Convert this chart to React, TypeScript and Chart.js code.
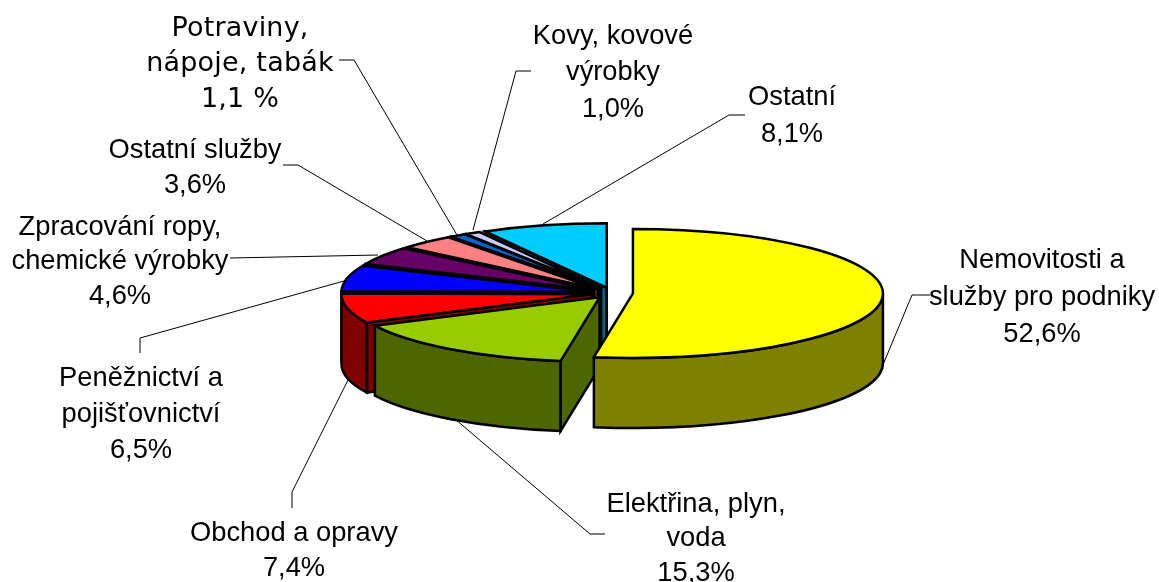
import React, { useEffect, useRef } from "react";
import { Chart, registerables } from "chart.js";

Chart.register(...registerables);

const categories = [
  "Nemovitosti a služby pro podniky",
  "Elektřina, plyn, voda",
  "Obchod a opravy",
  "Peněžnictví a pojišťovnictví",
  "Zpracování ropy, chemické výrobky",
  "Ostatní služby",
  "Potraviny, nápoje, tabák",
  "Kovy, kovové výrobky",
  "Ostatní",
];
const shares = [52.6, 15.3, 7.4, 6.5, 4.6, 3.6, 1.1, 1.0, 8.1];
const topColors = ["#FFFF00", "#99CC00", "#FF0000", "#0000FF", "#660066", "#FF8080", "#0066CC", "#CCCCFF", "#00CCFF"];
const wallColors = ["#808000", "#4D6600", "#800000", "#000080", "#330033", "#804040", "#003366", "#666680", "#006680"];

const labelLines = [
  ["Nemovitosti a", "služby pro podniky", "52,6%"],
  ["Elektřina, plyn,", "voda", "15,3%"],
  ["Obchod a opravy", "7,4%"],
  ["Peněžnictví a", "pojišťovnictví", "6,5%"],
  ["Zpracování ropy,", "chemické výrobky", "4,6%"],
  ["Ostatní služby", "3,6%"],
  ["Potraviny,", "nápoje, tabák", "1,1 %"],
  ["Kovy, kovové", "výrobky", "1,0%"],
  ["Ostatní", "8,1%"],
];
const labelCenterX = [1042, 696, 294, 141, 120, 195, 240, 613, 792];
const labelLineY = [
  [259, 296, 333],
  [503, 537, 572],
  [532, 567],
  [377, 413, 449],
  [226, 260, 295],
  [149, 184],
  [28, 63, 99],
  [35, 71, 108],
  [96, 133],
];
const leaders = [
  [[930, 295], [912, 295], [880, 372]],
  [[455, 419], [590, 534], [605, 534]],
  [[292, 508], [292, 492], [348, 380]],
  [[140, 353], [140, 338], [344, 281]],
  [[230, 258], [378, 255]],
  [[283, 165], [298, 165], [427, 241]],
  [[339, 60], [354, 60], [457, 235]],
  [[531, 71], [516, 71], [473, 230]],
  [[745, 115], [729, 115], [543, 224]],
];
const SANS = '"Liberation Sans", Arial, sans-serif';
const WIDE = '"DejaVu Sans", Verdana, sans-serif';
const WIDE_LABEL = 6;

const TILT = 0.258;
const DEPTH = 70;
const EXPLODE = 21;

const pie3d = {
  id: "pie3d",
  beforeDatasetDraw(chart: any) {
    const ctx = chart.ctx;
    const arcs = chart.getDatasetMeta(0).data;
    const geom = arcs.map((a: any) => {
      const mid = (a.startAngle + a.endAngle) / 2;
      return {
        s: a.startAngle,
        e: a.endAngle,
        R: a.outerRadius,
        ox: a.x + Math.cos(mid) * EXPLODE,
        oy: a.y + Math.sin(mid) * EXPLODE * TILT,
      };
    });
    ctx.save();
    ctx.lineWidth = 2.5;
    ctx.lineJoin = "miter";
    ctx.strokeStyle = "#000";
    const order = arcs.map((_: any, i: number) => arcs.length - 1 - i);
    for (const i of order) {
      const g = geom[i];
      ctx.fillStyle = wallColors[i];
      const face = (t: number) => {
        const px = g.ox + Math.cos(t) * g.R;
        const py = g.oy + Math.sin(t) * g.R * TILT;
        ctx.beginPath();
        ctx.moveTo(g.ox, g.oy);
        ctx.lineTo(px, py);
        ctx.lineTo(px, py + DEPTH);
        ctx.lineTo(g.ox, g.oy + DEPTH);
        ctx.closePath();
        ctx.fill();
        ctx.stroke();
      };
      if (Math.cos(g.s) < 0) face(g.s);
      if (Math.cos(g.e) > 0) face(g.e);
      const a = Math.max(g.s, 0);
      const b = Math.min(g.e, Math.PI);
      if (b > a) {
        ctx.beginPath();
        ctx.ellipse(g.ox, g.oy, g.R, g.R * TILT, 0, a, b);
        ctx.ellipse(g.ox, g.oy + DEPTH, g.R, g.R * TILT, 0, b, a, true);
        ctx.closePath();
        ctx.fill();
        ctx.stroke();
      }
    }
    for (const i of order) {
      const g = geom[i];
      const arc = arcs[i];
      ctx.save();
      ctx.translate(g.ox, g.oy);
      ctx.scale(1, TILT);
      ctx.translate(-arc.x, -arc.y);
      arc.draw(ctx);
      ctx.beginPath();
      ctx.moveTo(arc.x, arc.y);
      ctx.arc(arc.x, arc.y, g.R, g.s, g.e);
      ctx.closePath();
      ctx.restore();
      ctx.stroke();
    }
    ctx.restore();
    return false;
  },
  afterDraw(chart: any) {
    const ctx = chart.ctx;
    ctx.save();
    ctx.strokeStyle = "#000";
    ctx.lineWidth = 1;
    for (const path of leaders) {
      ctx.beginPath();
      path.forEach((p, i) => (i ? ctx.lineTo(p[0], p[1]) : ctx.moveTo(p[0], p[1])));
      ctx.stroke();
    }
    ctx.fillStyle = "#000";
    ctx.textAlign = "center";
    ctx.textBaseline = "middle";
    labelLines.forEach((lines, i) => {
      ctx.font = i === WIDE_LABEL ? `27px ${WIDE}` : `27.3px ${SANS}`;
      ctx.letterSpacing = i === WIDE_LABEL ? "0.2px" : "0px";
      lines.forEach((t, j) => ctx.fillText(t, labelCenterX[i], labelLineY[i][j] + 1));
    });
    ctx.restore();
  },
};

export default function App() {
  const ref = useRef<HTMLCanvasElement | null>(null);
  useEffect(() => {
    const chart = new Chart(ref.current as HTMLCanvasElement, {
      type: "pie",
      data: {
        labels: categories,
        datasets: [{ data: shares, backgroundColor: topColors, borderWidth: 0 }],
      },
      options: {
        animation: false,
        responsive: false,
        layout: { padding: { left: 65, right: 0, top: 43, bottom: 39 } },
        plugins: { legend: { display: false }, tooltip: { enabled: false } },
      },
      plugins: [pie3d],
    } as any);
    return () => chart.destroy();
  }, []);
  return (
    <canvas
      ref={ref}
      width={1159}
      height={582}
      style={{ position: "absolute", left: 0, top: 0, width: 1159, height: 582, display: "block" }}
    />
  );
}
